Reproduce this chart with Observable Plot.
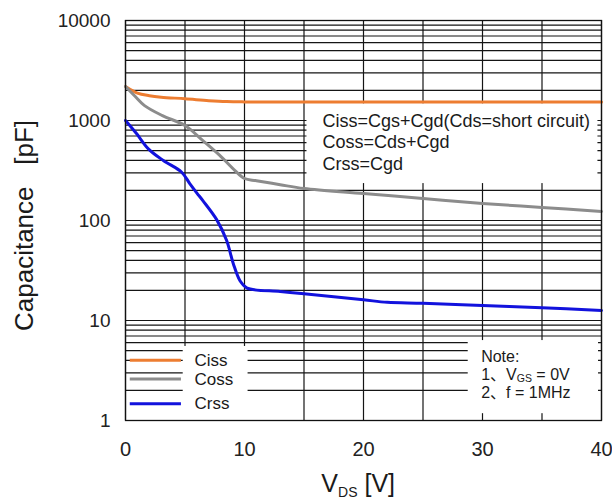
<!DOCTYPE html>
<html>
<head>
<meta charset="utf-8">
<script src="https://cdn.jsdelivr.net/npm/d3@7"></script>
<script src="https://cdn.jsdelivr.net/npm/@observablehq/plot@0.6"></script>
<style>
  html, body { margin: 0; padding: 0; background: #fff; }
  #chart { width: 612px; height: 500px; }
  svg { font-family: "Liberation Sans", Arial, "Noto Sans CJK SC", sans-serif; }
</style>
</head>
<body>
<div id="chart"></div>
<script>
// ---- data ----
const seriesNames = ["Ciss", "Coss", "Crss"];
const seriesColors = ["#ED7D31", "#8C8C8C", "#1212DD"];

const cissV = [0, 1, 2, 3, 5, 7, 8.5, 10, 15, 20, 25, 30, 35, 40];
const cissC = [2190, 1880, 1770, 1710, 1650, 1580, 1545, 1535, 1535, 1535, 1535, 1535, 1535, 1535];

const cossV = [0, 0.8, 1.6, 3.1, 5, 6.5, 7.9, 9.2, 10, 11, 13, 15, 20, 25, 30, 35, 40];
const cossC = [2190, 1750, 1410, 1120, 890, 630, 450, 316, 263, 250, 228, 209, 186, 166, 148, 135, 123];

const crssV = [0, 0.94, 1.92, 3.18, 4.72, 5.4, 6, 6.5, 7.66, 8.5, 9.06, 9.62, 10.18, 13, 15, 20, 22, 25, 30, 35, 40];
const crssC = [1000, 736, 521, 398, 304, 234, 188, 158, 102, 63, 37, 25, 21.2, 19.5, 18.5, 16.1, 15.2, 14.9, 14.1, 13.4, 12.6];

const xTicks = [0, 10, 20, 30, 40];
const yTicks = [1, 10, 100, 1000, 10000];
const xGrid = [0, 5, 10, 15, 20, 25, 30, 35, 40];
const yGrid = [1,2,3,4,5,6,7,8,9,10,20,30,40,50,60,70,80,90,100,200,300,400,500,600,700,800,900,1000,2000,3000,4000,5000,6000,7000,8000,9000,10000];

const legendY = [4, 2.6, 1.47];
const formulaLines = ["Ciss=Cgs+Cgd(Cds=short circuit)", "Coss=Cds+Cgd", "Crss=Cgd"];

// ---- build ----
const toRecs = (vs, cs, name) => vs.map((v, i) => ({v, c: cs[i], name}));
const curves = [toRecs(cissV, cissC, "Ciss"), toRecs(cossV, cossC, "Coss"), toRecs(crssV, crssC, "Crss")];
const legendData = seriesNames.map((n, i) => ({name: n, y: legendY[i], color: seriesColors[i]}));
const K = (v) => () => v;

const gridStyle = {stroke: "#151515", strokeWidth: 1.2, strokeOpacity: 1};

const plot = Plot.plot({
  width: 612,
  height: 500,
  marginLeft: 125,
  marginRight: 11,
  marginTop: 20,
  marginBottom: 80,
  style: {fontFamily: '"Liberation Sans", Arial, "Noto Sans CJK SC", sans-serif', background: "#fff", color: "#222"},
  x: {domain: [0, 40]},
  y: {type: "log", domain: [1, 10000]},
  marks: [
    Plot.ruleX(xGrid, gridStyle),
    Plot.ruleY(yGrid, gridStyle),
    // annotation boxes
    Plot.rect([0], {x1: K(15.25), x2: K(39.7), y1: K(234), y2: K(1468), fill: "white"}),
    Plot.rect([0], {x1: K(4.85), x2: K(10.3), y1: K(1), y2: K(5.5), fill: "white"}),
    Plot.rect([0], {x1: K(28.8), x2: K(39.75), y1: K(1.17), y2: K(6.3), fill: "white"}),
    // legend samples
    Plot.ruleY(legendData, {y: "y", x1: K(0.4), x2: K(4.7), stroke: "color", strokeWidth: 3}),
    // curves
    ...curves.map((d, i) => Plot.line(d, {x: "v", y: "c", stroke: seriesColors[i], strokeWidth: 3, curve: "catmull-rom"})),
    Plot.frame({stroke: "#111", strokeWidth: 1.3}),
    Plot.axisY({ticks: yTicks, tickSize: 0, tickPadding: 15, fontSize: 19, label: null, tickFormat: d => String(d)}),
    Plot.axisX({ticks: xTicks, tickSize: 0, tickPadding: 21, fontSize: 20, label: null, tickFormat: d => String(d)})
  ]
});

document.getElementById("chart").appendChild(plot);

// ---- rich text annotations ----
const sx = plot.scale("x"), sy = plot.scale("y");
const svg = d3.select(plot);
function addText(parts, x, y, size, opts = {}) {
  const t = svg.append("text")
    .attr("x", x).attr("y", y)
    .attr("font-size", size)
    .attr("fill", opts.fill || "#1a1a1a")
    .attr("text-anchor", opts.anchor || "start")
    .style("white-space", "pre");
  if (opts.rotate) t.attr("transform", `rotate(-90 ${x} ${y})`);
  parts.forEach(p => {
    const s = t.append("tspan").text(p.text);
    if (p.size) s.attr("font-size", p.size);
    if (p.dy) s.attr("dy", p.dy);
  });
  return t;
}

// formula box text
formulaLines.forEach((line, i) => {
  addText([{text: line}], sx.apply(16.6), sy.apply([851, 525, 316][i]), 18);
});

// legend labels
legendData.forEach((d, i) => {
  addText([{text: d.name}], sx.apply(5.84), sy.apply(d.y) + 6, 17);
});

// note
addText([{text: "Note:"}], sx.apply(29.93), sy.apply(3.8), 16);
addText([{text: "1、V"}, {text: "GS", size: 10.5, dy: 2}, {text: " = 0V", dy: -2}], sx.apply(29.93), sy.apply(2.51), 16);
addText([{text: "2、f = 1MHz"}], sx.apply(29.93), sy.apply(1.66), 16);

// axis labels
const bottom = sy.apply(1);
addText([{text: "V"}, {text: "DS", size: 14, dy: 5}, {text: " [V]", dy: -5}], sx.apply(16.5), bottom + 72, 25);
addText([{text: "Capacitance   [pF]"}], 33, 225.5, 26, {anchor: "middle", rotate: true});
</script>
</body>
</html>
